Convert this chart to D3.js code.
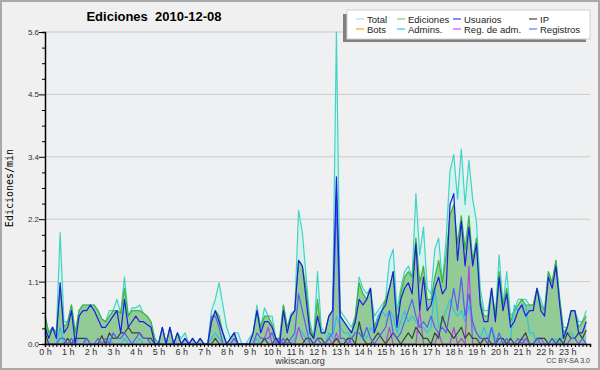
<!DOCTYPE html>
<html>
<head>
<meta charset="utf-8">
<script src="https://cdn.jsdelivr.net/npm/d3@7"></script>
<style>
  body { margin: 0; background: #f0f0f0; }
  svg { display: block; font-family: "Liberation Sans", Arial, sans-serif; }
</style>
</head>
<body>
<div id="chart"></div>
<script>
// valores cada 10 minutos (144 puntos), una fila por hora
var total = [
  0.5,0.2,0.3,0.2,2.0,0.4, 0.4,0.7,0.2,0.6,0.7,0.7, 0.7,0.7,0.6,0.45,0.4,0.6, 0.6,0.8,0.55,1.2,0.5,0.65,
  0.65,0.7,0.55,0.5,0.4,0.1, 0.0,0.3,0.0,0.3,0.0,0.2, 0.1,0.2,0.0,0.1,0.0,0.1, 0.0,0.0,0.6,0.8,1.1,0.7,
  0.3,0.1,0.2,0.2,0.0,0.0, 0.1,0.2,0.7,0.3,0.65,0.5, 0.5,0.1,0.1,0.7,0.3,0.55, 0.6,2.4,2.0,1.2,0.4,0.1,
  1.3,0.3,0.2,0.5,0.6,5.6, 0.6,0.5,0.4,0.3,0.5,1.2, 1.0,0.9,1.0,0.5,0.6,0.7, 0.8,1.5,1.7,0.6,1.0,1.3,
  1.4,1.2,2.7,1.6,2.1,1.0, 0.9,1.7,1.9,1.1,1.9,3.1, 3.4,2.6,3.5,2.5,3.3,2.6, 2.2,1.0,0.6,0.6,1.0,0.5,
  1.6,0.7,1.3,0.5,0.6,0.8, 0.8,0.8,0.7,0.7,1.0,0.8, 0.6,1.3,1.1,1.5,0.8,0.3, 0.3,0.6,0.6,0.4,0.4,0.6
];
var ediciones = [
  0.5,0.2,0.3,0.2,1.0,0.3, 0.4,0.7,0.2,0.6,0.7,0.7, 0.7,0.7,0.6,0.45,0.4,0.5, 0.6,0.6,0.55,1.0,0.5,0.6,
  0.6,0.6,0.55,0.5,0.4,0.1, 0.0,0.3,0.0,0.3,0.0,0.2, 0.0,0.1,0.0,0.1,0.0,0.1, 0.0,0.0,0.4,0.6,0.5,0.2,
  0.0,0.1,0.2,0.0,0.0,0.0, 0.0,0.2,0.6,0.3,0.5,0.5, 0.35,0.1,0.1,0.7,0.3,0.5, 0.6,1.5,1.4,1.0,0.3,0.1,
  0.8,0.2,0.2,0.5,0.6,2.7, 0.5,0.4,0.3,0.2,0.5,1.1, 0.9,0.8,1.0,0.3,0.5,0.6, 0.8,1.0,1.3,0.4,0.9,1.2,
  1.3,1.2,1.9,1.1,1.4,0.8, 0.8,1.2,1.5,1.1,1.6,2.3, 2.5,1.8,2.3,1.7,2.3,1.5, 1.9,0.8,0.5,0.5,1.0,0.5,
  1.3,0.7,1.0,0.4,0.6,0.7, 0.8,0.7,0.7,0.7,1.0,0.7, 0.6,1.3,1.1,1.5,0.8,0.2, 0.3,0.6,0.6,0.3,0.4,0.5
];
var usuarios = [
  0.3,0.1,0.3,0.1,1.1,0.2, 0.3,0.6,0.0,0.5,0.6,0.6, 0.7,0.6,0.45,0.3,0.3,0.4, 0.5,0.6,0.2,0.8,0.3,0.4,
  0.5,0.4,0.4,0.35,0.3,0.0, 0.0,0.3,0.0,0.3,0.0,0.2, 0.0,0.1,0.0,0.1,0.0,0.1, 0.0,0.0,0.4,0.6,0.4,0.2,
  0.0,0.1,0.2,0.0,0.0,0.0, 0.0,0.2,0.6,0.2,0.4,0.4, 0.3,0.1,0.0,0.6,0.2,0.5, 0.6,1.5,1.4,0.8,0.2,0.1,
  0.5,0.2,0.2,0.5,0.6,3.0, 0.5,0.4,0.3,0.2,0.4,0.8, 0.7,0.8,1.0,0.2,0.4,0.6, 0.7,1.0,1.3,0.3,0.8,1.0,
  1.1,0.9,1.8,0.6,1.2,0.6, 0.7,1.0,1.2,0.9,1.0,2.5, 2.7,1.5,2.2,1.4,2.1,1.4, 1.8,0.7,0.4,0.4,1.0,0.4,
  1.2,0.6,0.9,0.3,0.4,0.6, 0.7,0.5,0.6,0.6,1.0,0.6, 0.5,1.2,1.0,1.4,0.7,0.1, 0.3,0.6,0.6,0.2,0.2,0.4
];
var ip = [
  0.2,0,0,0,0,0, 0.1,0,0.1,0.1,0.1,0.1, 0,0,0,0.15,0,0.2, 0.1,0.1,0.2,0.2,0.3,0.2,
  0.2,0.2,0.1,0.1,0.1,0, 0,0,0,0,0,0, 0,0,0,0,0,0, 0,0,0,0.1,0,0,
  0,0,0,0,0,0, 0,0,0,0,0.1,0, 0,0.1,0,0,0.1,0, 0,0,0,0.1,0.1,0,
  0.1,0.1,0,0,0,0.1, 0,0,0.1,0.1,0,0.4, 0.1,0,0,0.1,0.2,0.1, 0,0.1,0.2,0.1,0,0.1,
  0.2,0.1,0.3,0.2,0.1,0.1, 0,0.2,0.1,0.5,0.3,0.2, 0.1,0.2,0.3,0.1,0.2,0.1, 0.1,0,0.1,0.1,0,0,
  0.1,0.1,0,0.1,0,0, 0.1,0.2,0,0,0.1,0.1, 0.1,0,0.1,0,0.1,0, 0.2,0.1,0.1,0.2,0.1,0.25
];
var bots = d3.range(144).map(function() { return 0; });
var admins = [
  0,0,0,0,0.3,0, 0.1,0,0,0.1,0.1,0, 0,0,0,0,0,0.1, 0,0,0,0.1,0,0,
  0,0.1,0,0,0,0, 0,0,0,0,0,0, 0,0,0,0,0,0, 0,0,0.1,0.2,0.1,0,
  0,0,0.1,0,0,0, 0,0,0.1,0,0.1,0, 0,0,0,0.1,0,0, 0.1,0.3,0.2,0.1,0,0,
  0.1,0,0,0.2,0.1,0.5, 0.3,0.2,0.2,0.1,0.2,0.3, 0.2,0.1,0.3,0.2,0.5,0.6, 0.5,0.6,0.5,0.2,0.4,0.6,
  0.4,0.5,0.4,0.3,0.3,0.2, 0.3,1.0,0.3,0.4,0.6,0.8, 0.6,0.5,0.6,0.4,0.7,0.3, 0.2,0.1,0.3,0.1,0.3,0.1,
  0,0.1,0,0.1,0.7,0.6, 0.7,0.7,0.2,0.2,0,0.1, 0.1,0,0,0.1,0,0.2, 0.2,0.2,0.1,0.2,0.1,0
];
var regAdm = [
  0,0,0,0,0,0, 0,0,0,0,0,0, 0,0,0,0,0,0, 0,0,0,0,0,0,
  0,0,0,0,0,0, 0,0,0,0,0,0, 0,0,0,0,0,0, 0,0,0,0,0,0,
  0,0,0,0,0,0, 0,0,0,0,0.1,0.3, 0,0,0.1,0,0,0, 0,0.3,0.1,0,0,0,
  0,0,0,0.1,0,0.2, 0,0,0.1,0,0,0, 0,0,0,0,0,0, 0,0.3,0,0,0,0,
  0,0,0,0.6,0,0, 0,0,0.2,0,0,0, 0.3,0,0.1,0,1.4,0, 0,0,0.1,0,0,0,
  0,0,0,0,0,0, 0.1,0,0,0,0.1,0.1, 0,0,0,0,0,0, 0,0,0,0,0,0
];
var registros = [
  0,0,0,0,0.1,0.1, 0,0.1,0,0,0,0.1, 0,0,0.1,0,0.1,0, 0.2,0.1,0.1,0.2,0.1,0,
  0.1,0.2,0.1,0.1,0,0, 0,0,0,0,0,0, 0,0.1,0,0,0,0, 0,0,0.5,0.5,0.3,0,
  0,0,0.1,0,0,0, 0,0,0.2,0.1,0.1,0.1, 0.2,0,0,0.1,0,0.1, 0.2,0.9,0.6,0.3,0,0,
  0.1,0,0,0.1,0.2,2.6, 0.1,0.1,0,0.1,0.2,0.2, 0.1,0.3,0.1,0,0.1,0.2, 0.3,0.6,0.2,0.1,0.2,0.4,
  0.6,0.8,0.5,0.3,0.4,0.3, 0.5,0.3,0.2,0.3,0.2,0.6, 1.0,0.6,1.2,0.5,0.9,0.4, 0.2,0.1,0.1,0,0.3,0,
  0.2,0,0.1,0,0,0.1, 0,0.1,0,0,0.1,0, 0,0,0.1,0,0,0, 0,0.1,0.1,0,0.1,0
];
var hourLabels = d3.range(24).map(function(h) { return h + " h"; });
var yMax = 5.6;

var width = 600, height = 370;
var margin = {top: 32, right: 10, bottom: 26, left: 45};

var svg = d3.select("#chart").append("svg")
    .attr("width", width)
    .attr("height", height);

svg.append("rect")
    .attr("x", 1).attr("y", 1)
    .attr("width", width - 2).attr("height", height - 2)
    .attr("fill", "#f0f0f0")
    .attr("stroke", "#a8a8a8")
    .attr("stroke-width", 2);

var xScale = d3.scaleLinear()
    .domain([0, 144])
    .range([margin.left, width - margin.right]);
var yScale = d3.scaleLinear()
    .domain([0, yMax])
    .range([height - margin.bottom, margin.top]);

svg.append("rect")
    .attr("x", margin.left).attr("y", margin.top)
    .attr("width", xScale(144) - margin.left)
    .attr("height", yScale(0) - margin.top)
    .attr("fill", "#eef0f2");

// líneas de la rejilla
var yTicks = d3.range(0, 21).map(function(k) { return k * yMax / 20; });
svg.append("g")
    .selectAll("line")
    .data(yTicks.filter(function(d, k) { return k % 4 == 0 && k > 0; }))
    .join("line")
    .attr("x1", margin.left)
    .attr("x2", xScale(144))
    .attr("y1", d => yScale(d))
    .attr("y2", d => yScale(d))
    .attr("stroke", "#cacaca")
    .attr("stroke-width", 1);

var area = function(vals) {
    return d3.area()
        .x((d, i) => xScale(i))
        .y0(yScale(0))
        .y1(d => yScale(d))(vals);
};
var line = function(vals) {
    return d3.line()
        .x((d, i) => xScale(i))
        .y(d => yScale(d))(vals);
};

svg.append("path").attr("d", area(total)).attr("fill", "#d6f2ee");
svg.append("path").attr("d", area(ediciones)).attr("fill", "#93cb97");

var series = [
    {name: "Total", vals: total, color: "#40d4c6"},
    {name: "Ediciones", vals: ediciones, color: "#3cb43c"},
    {name: "Bots", vals: bots, color: "#ffa020"},
    {name: "Admins.", vals: admins, color: "#2cc4e0"},
    {name: "Reg. de adm.", vals: regAdm, color: "#b444e8"},
    {name: "IP", vals: ip, color: "#404040"},
    {name: "Registros", vals: registros, color: "#5a5af6"},
    {name: "Usuarios", vals: usuarios, color: "#1c1ce4"}
];

series.forEach(function(s) {
    svg.append("path")
        .attr("d", line(s.vals))
        .attr("fill", "none")
        .attr("stroke", s.color)
        .attr("stroke-width", 1.2)
        .attr("stroke-linejoin", "round");
});

// eje y
var yAxis = svg.append("g")
    .attr("transform", `translate(${margin.left},0)`)
    .call(d3.axisLeft(yScale)
        .tickValues(yTicks)
        .tickSizeOuter(0)
        .tickSize(3)
        .tickPadding(2)
        .tickFormat((d, k) => k % 4 == 0 ? d.toFixed(1) : ""));
yAxis.selectAll(".tick line")
    .attr("x2", (d, k) => k % 4 == 0 ? -6 : -3);
yAxis.selectAll(".tick text")
    .attr("x", -6)
    .attr("font-size", 8)
    .attr("fill", "#333");
yAxis.select(".domain").attr("stroke-width", 1.5);

// eje x
var xAxis = svg.append("g")
    .attr("transform", `translate(0,${yScale(0)})`)
    .call(d3.axisBottom(xScale)
        .tickValues(d3.range(0, 145))
        .tickSizeOuter(0)
        .tickSize(3)
        .tickPadding(2)
        .tickFormat(d => (d % 6 == 0 && d < 144) ? hourLabels[d / 6] : ""));
xAxis.selectAll(".tick text")
    .attr("font-size", 9)
    .attr("fill", "#333");
xAxis.select(".domain").attr("stroke-width", 1.5);

svg.append("text")
    .attr("x", 154)
    .attr("y", 21)
    .attr("text-anchor", "middle")
    .attr("font-weight", "bold")
    .attr("font-size", 13)
    .style("white-space", "pre")
    .text("Ediciones  2010-12-08");

svg.append("text")
    .attr("transform", "translate(13,188) rotate(-90)")
    .attr("text-anchor", "middle")
    .attr("font-family", "DejaVu Sans Mono, monospace")
    .attr("font-size", 10)
    .text("Ediciones/min");

svg.append("text")
    .attr("x", 300)
    .attr("y", 364)
    .attr("text-anchor", "middle")
    .attr("font-size", 9)
    .attr("fill", "#333")
    .text("wikiscan.org");

svg.append("text")
    .attr("x", 590)
    .attr("y", 363)
    .attr("text-anchor", "end")
    .attr("font-size", 7)
    .attr("fill", "#444")
    .text("CC BY-SA 3.0");

// leyenda
var legend = svg.append("g");
legend.append("rect")
    .attr("x", 343).attr("y", 14)
    .attr("width", 243).attr("height", 28)
    .attr("fill", "#808080");
legend.append("rect")
    .attr("x", 347).attr("y", 10)
    .attr("width", 243).attr("height", 29)
    .attr("fill", "#ffffff")
    .attr("stroke", "#d0d0d0");

var legendItems = [
    {name: "Total", color: "#9ee8e2", col: 0, row: 0},
    {name: "Ediciones", color: "#7cd07c", col: 1, row: 0},
    {name: "Usuarios", color: "#4040f0", col: 2, row: 0},
    {name: "IP", color: "#404040", col: 3, row: 0},
    {name: "Bots", color: "#ffa020", col: 0, row: 1},
    {name: "Admins.", color: "#2cc8e4", col: 1, row: 1},
    {name: "Reg. de adm.", color: "#e040f0", col: 2, row: 1},
    {name: "Registros", color: "#7070ff", col: 3, row: 1}
];
var colX = [356, 397, 453, 529];

legend.selectAll("line.key")
    .data(legendItems)
    .join("line")
    .attr("class", "key")
    .attr("x1", d => colX[d.col])
    .attr("x2", d => colX[d.col] + 8)
    .attr("y1", d => 19 + d.row * 10)
    .attr("y2", d => 19 + d.row * 10)
    .attr("stroke", d => d.color)
    .attr("stroke-width", 1.2);

legend.selectAll("text")
    .data(legendItems)
    .join("text")
    .attr("x", d => colX[d.col] + 11)
    .attr("y", d => 22.5 + d.row * 10)
    .attr("font-size", 9.5)
    .attr("fill", "#222")
    .text(d => d.name);
</script>
</body>
</html>
